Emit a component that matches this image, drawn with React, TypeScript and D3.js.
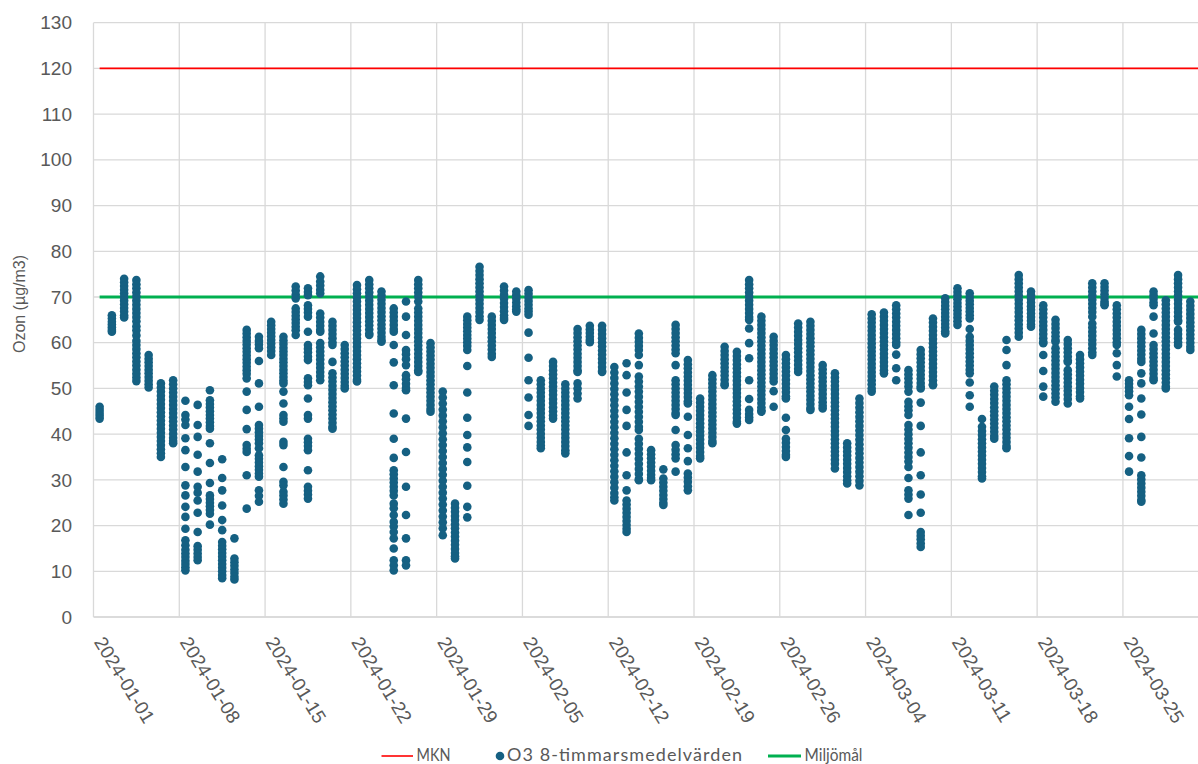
import React from 'react';
import * as d3 from 'd3';

// ---------- data ----------
const firstDay = '2024-01-01';
const axisStart = '2024-01-01';
const axisEnd = '2024-04-01';
const weekTicks = [
  '2024-01-01', '2024-01-08', '2024-01-15', '2024-01-22', '2024-01-29', '2024-02-05',
  '2024-02-12', '2024-02-19', '2024-02-26', '2024-03-04', '2024-03-11', '2024-03-18', '2024-03-25',
];
const yTicks = [0, 10, 20, 30, 40, 50, 60, 70, 80, 90, 100, 110, 120, 130];
const mknValue = 120;
const miljomalValue = 70;
const seriesNames = ['MKN', 'O3 8-timmarsmedelvärden', 'Miljömål'];

// O3 8-hour means per day (one list per day, starting 2024-01-01)
const o3ByDay: number[][] = [
  // Jan 1-7
  [46, 45.3, 44.6, 44, 43.4],
  [66, 65.3, 64.6, 64, 63.4, 62.8, 62.4],
  [74, 73.2, 72.4, 71.6, 70.8, 70, 69.2, 68.4, 67.6, 66.8, 66, 65.5],
  [73.7, 72.8, 71.9, 71, 70.1, 69.2, 68.3, 67.4, 66.5, 65.6, 64.7, 63.6, 62.7, 61.6, 60.4, 59.5, 58.6, 57.7, 56.8, 55.9, 55, 54.1, 53.2, 52.4, 51.6],
  [57.3, 56.5, 55.7, 54.9, 54.1, 53.3, 52.5, 51.7, 50.9, 50.2],
  [51.1, 50.2, 49.3, 48.4, 47.5, 46.6, 45.7, 44.8, 43.9, 43, 42.1, 41.2, 40.3, 39.4, 38.5, 37.6, 36.7, 35.8, 35],
  [51.8, 50.9, 50, 49.1, 48.2, 47.3, 46.4, 45.5, 44.6, 43.7, 42.8, 41.9, 41, 40.1, 39.2, 38.5, 38],
  // Jan 8-14
  [47.3, 44.2, 43.2, 42, 39.1, 36.5, 32.8, 28.8, 26.6, 24.1, 21.9, 19.3, 16.8, 15.7, 14.7, 13.9, 13.1, 12.3, 11.6, 10.9, 10.2],
  [46.4, 42, 39.4, 35.5, 31.8, 28.5, 27.2, 25.5, 22.8, 18.6, 15.5, 14.7, 13.9, 13.1, 12.4],
  [49.6, 47.4, 46.6, 45.8, 45, 44.2, 43.4, 42.6, 41.8, 41.2, 38, 33.7, 29.3, 26.6, 25.8, 25, 24.2, 23.4, 22.6, 20.2],
  [34.5, 30.4, 27.7, 24.4, 21.2, 19, 16.4, 15.6, 14.8, 14, 13.2, 12.4, 11.6, 10.8, 10, 9.2, 8.5],
  [17.2, 12.8, 12, 11.2, 10.4, 9.6, 8.8, 8.2],
  [62.8, 62, 61.2, 60.4, 59.6, 58.8, 58, 57.2, 56.4, 55.6, 54.8, 54, 53.2, 52.2, 49.3, 45.3, 41.1, 37.6, 36.8, 36.1, 31, 23.7],
  [61.3, 60.4, 59.6, 58.8, 56, 51.1, 46, 42, 41.2, 40.4, 39.6, 38.8, 38, 36.9, 35.4, 34.6, 33.8, 33, 32.2, 31.4, 30.7, 27.7, 26.5, 25.2],
  // Jan 15-21
  [64.6, 63.8, 63, 62.2, 61.4, 60.6, 59.8, 59, 58.2, 57.3],
  [61.3, 60.5, 59.7, 58.9, 58.1, 57.3, 56.5, 55.7, 54.9, 54.1, 53.3, 52.5, 51.7, 51.1, 49.3, 46.7, 44.2, 43.4, 42.7, 38.3, 37.6, 32.8, 29.6, 28.8, 27.4, 26.6, 25.7, 24.8],
  [72.3, 71.4, 70.5, 69.7, 67.5, 66.7, 65.9, 65.1, 64.3, 63.5, 62.7, 61.7],
  [71.9, 71.1, 70.4, 68.2, 67.4, 66.6, 65.7, 62.4, 59.5, 58.7, 57.9, 57, 56.2, 52.2, 51.4, 50.7, 47.8, 44.2, 43.4, 39, 38.2, 37.4, 36.5, 32.1, 28.5, 27.6, 26.8, 25.9],
  [74.5, 73.4, 72.5, 71.6, 70.8, 66.4, 65.5, 64.6, 63.7, 62.8, 62.4, 59.9, 59, 58.1, 57.2, 56.3, 55.4, 54.5, 53.6, 52.7, 51.8],
  [64.6, 63.7, 62.8, 61.9, 61, 60.1, 59.5, 55.8, 53.3, 52.4, 51.5, 50.6, 49.7, 48.8, 47.9, 47, 46.1, 45.2, 44.3, 43.4, 42.5, 41.6, 41.2],
  [59.5, 58.6, 57.7, 56.8, 55.9, 55, 54.1, 53.2, 52.3, 51.4, 50.6, 50],
  // Jan 22-28
  [72.6, 71.7, 70.8, 69.9, 69, 68.1, 67.2, 66.3, 65.4, 64.5, 63.6, 62.7, 61.8, 60.9, 60, 59.1, 58.2, 57.3, 56.4, 55.5, 54.6, 53.7, 52.8, 51.9, 51.5],
  [73.7, 72.8, 71.9, 71, 70.1, 69.2, 68.3, 67.4, 66.5, 65.6, 64.7, 63.8, 62.9, 62, 61.7],
  [71.2, 70.3, 69.4, 68.5, 67.6, 66.7, 65.8, 64.9, 64, 63.1, 62.2, 61.3, 60.6, 60.2],
  [67.5, 66.6, 65.7, 64.8, 63.9, 63, 62.4, 59.5, 55.7, 50.7, 44.5, 39, 34.8, 32.1, 31.2, 30.3, 29.4, 28.5, 27.6, 26.6, 24.8, 23.8, 22.3, 20.8, 19.8, 18.6, 17.2, 15, 12.4, 11.3, 10.2],
  [69, 65.7, 61.7, 58.4, 57.5, 56.4, 55.1, 52.9, 52, 51, 50.1, 49.6, 43.4, 36.1, 28.5, 22.3, 17.2, 12.4, 11.3],
  [73.7, 72.8, 71.9, 71, 70.1, 69, 67.5, 66.6, 65.7, 64.8, 63.9, 63, 62.1, 61.2, 60.3, 59.4, 58.5, 57.6, 56.7, 55.8, 54.9, 54, 53.6],
  [59.9, 59, 58.1, 57.2, 56.3, 55.4, 54.5, 53.6, 52.7, 51.8, 50.9, 50, 49.1, 48.2, 47.3, 46.4, 45.5, 44.9],
  // Jan 29 - Feb 4
  [49.3, 48, 46.7, 45.4, 44.1, 42.8, 41.5, 40.2, 38.9, 37.6, 36.3, 35, 33.7, 32.4, 31.1, 29.8, 28.5, 27.2, 25.9, 24.6, 23.3, 22, 20.7, 19.4, 17.9],
  [24.8, 23.9, 23, 22.1, 21.2, 20.3, 19.4, 18.5, 17.6, 16.7, 15.8, 14.9, 14, 13.3, 12.8],
  [65.7, 64.9, 64.1, 63.3, 62.5, 61.7, 60.9, 60.1, 59.3, 58.4, 54.9, 49.1, 43.6, 39.8, 37.1, 33.9, 28.7, 24.1, 21.8],
  [76.6, 75.7, 74.8, 73.9, 73, 72.1, 71.2, 70.3, 69.4, 68.5, 67.6, 66.7, 65.8, 65],
  [65.7, 64.8, 63.9, 63, 62.1, 61.2, 60.3, 59.4, 58.5, 57.6, 56.9],
  [72.3, 71.4, 70.5, 69.6, 68.7, 67.8, 66.9, 66, 65.4, 65],
  [71.2, 70.4, 69.6, 68.8, 68, 67.3, 66.8],
  // Feb 5-11
  [71.5, 70.7, 69.9, 69.1, 68.3, 67.5, 66.8, 66.1, 62.2, 56.7, 51.8, 48, 44.2, 41.8],
  [51.8, 50.9, 50, 49.1, 48.2, 47.3, 46.4, 45.5, 44.6, 43.7, 42.8, 41.9, 41, 40.1, 39.2, 38.3, 37.5, 36.9],
  [55.8, 54.9, 54, 53.1, 52.2, 51.3, 50.4, 49.5, 48.6, 47.7, 46.8, 45.9, 45, 44.1, 43.4],
  [50.9, 50, 49.1, 48.2, 47.3, 46.4, 45.5, 44.6, 43.7, 42.8, 41.9, 41, 40.1, 39.2, 38.3, 37.4, 36.5, 35.8],
  [63, 62.1, 61.2, 60.3, 59.4, 58.5, 57.6, 56.7, 55.8, 54.9, 54, 53.6, 51.1, 50, 48.9, 47.8],
  [63.7, 62.9, 62.1, 61.3, 60.6, 60.1],
  [63.7, 62.8, 61.9, 61, 60.1, 59.2, 58.3, 57.4, 56.5, 55.6, 54.7, 53.8, 53.6],
  // Feb 12-18
  [54.7, 53.5, 52.3, 51.1, 49.9, 48.7, 47.5, 46.3, 45.1, 43.9, 42.7, 41.5, 40.3, 39.1, 37.9, 36.7, 35.5, 34.3, 33.1, 31.9, 30.7, 29.5, 28.3, 27.1, 26.2, 25.5],
  [55.5, 52.9, 49.1, 45.3, 41.8, 36, 31, 27.7, 25.5, 24.6, 23.7, 22.8, 21.9, 21, 20.1, 19.3, 18.6],
  [62, 61.1, 60.2, 59.3, 58.4, 57.3, 55.1, 52.6, 51.5, 50.4, 49.3, 48.2, 47.1, 46, 44.9, 43.8, 42.7, 41.6, 40.9, 39, 37.9, 36.8, 35.7, 34.6, 33.5, 32.4, 31.3, 30.2, 29.9],
  [36.5, 35.6, 34.7, 33.8, 32.9, 32, 31.1, 30.4, 29.9],
  [32.3, 30.3, 29.4, 28.5, 27.6, 26.7, 25.8, 25, 24.5],
  [63.9, 63, 62.1, 61.2, 60.3, 59.4, 58.5, 57.7, 55.1, 51.8, 50.9, 50, 49.1, 48.2, 47.3, 46.4, 45.5, 44.6, 44.2, 40.9, 37.6, 36.6, 35.6, 34.7, 31.8],
  [56.2, 55.3, 54.4, 53.5, 52.6, 51.7, 50.8, 49.9, 49, 48.1, 47.2, 46.7, 43.8, 39.8, 36.9, 34.1, 31.4, 30.5, 29.6, 28.6, 27.7],
  // Feb 19-25
  [47.8, 46.9, 46, 45.1, 44.2, 43.3, 42.4, 41.5, 40.6, 39.7, 38.8, 37.9, 37, 36.1, 35.2, 34.7],
  [52.9, 52, 51.1, 50.2, 49.3, 48.4, 47.5, 46.6, 45.7, 44.8, 43.9, 43, 42.1, 41.2, 40.3, 39.4, 38.5, 38],
  [59.1, 58.2, 57.3, 56.4, 55.5, 54.6, 53.7, 52.8, 51.9, 51, 50.7],
  [58, 57.1, 56.2, 55.3, 54.4, 53.5, 52.6, 51.7, 50.8, 49.9, 49, 48.1, 47.2, 46.3, 45.4, 44.5, 43.6, 42.7, 42.3],
  [73.7, 72.8, 71.9, 71, 70.1, 69.2, 68.3, 67.4, 66.5, 65.6, 65, 63.1, 59.9, 56.6, 51.8, 47.7, 45.3, 44.4, 43.7, 43.1],
  [65.7, 64.8, 63.9, 63, 62.1, 61.2, 60.3, 59.4, 58.5, 57.6, 56.7, 55.8, 54.9, 54, 53.1, 52.2, 51.3, 50.4, 49.5, 48.6, 47.7, 46.8, 45.9, 45.2, 44.9],
  [61.3, 60.4, 59.5, 58.6, 57.7, 56.8, 55.9, 55, 54.1, 53.2, 52.3, 51.5, 49.4, 46],
  // Feb 26 - Mar 3
  [57.3, 56.4, 55.5, 54.6, 53.7, 52.8, 51.9, 51, 50.1, 49.2, 48.3, 47.8, 43.6, 40.9, 39, 38.1, 37.2, 36.3, 35.5, 35],
  [64.2, 63.3, 62.4, 61.5, 60.6, 59.7, 58.8, 57.9, 57, 56.1, 55.2, 54.3, 53.6],
  [64.6, 63.7, 62.8, 61.9, 61, 60.1, 59.2, 58.3, 57.4, 56.5, 55.6, 54.7, 53.8, 52.9, 52, 51.1, 50.2, 49.3, 48.4, 47.5, 46.6, 45.7, 45.3],
  [55.1, 54.2, 53.3, 52.4, 51.5, 50.6, 49.7, 48.8, 47.9, 47, 46.2, 45.6],
  [53.3, 52.4, 51.5, 50.6, 49.7, 48.8, 47.9, 47, 46.1, 45.2, 44.3, 43.4, 42.5, 41.6, 40.7, 39.8, 38.9, 38, 37.1, 36.2, 35.3, 34.4, 33.5, 32.5],
  [38, 37.1, 36.2, 35.3, 34.4, 33.5, 32.6, 31.7, 30.8, 29.9, 29.2],
  [47.8, 46.8, 45.8, 44.8, 43.8, 42.8, 41.8, 40.8, 39.8, 38.8, 37.8, 36.8, 35.8, 34.8, 33.8, 32.8, 31.8, 30.8, 29.8, 28.8],
  // Mar 4-10
  [66.2, 65.3, 64.4, 63.5, 62.6, 61.7, 60.8, 59.9, 59, 58.1, 57.2, 56.3, 55.4, 54.5, 53.6, 52.7, 51.8, 50.9, 50, 49.3],
  [66.6, 65.7, 64.8, 63.9, 63, 62.1, 61.2, 60.3, 59.4, 58.5, 57.6, 56.7, 55.8, 54.9, 54, 53.3],
  [68.2, 67.3, 66.4, 65.5, 64.6, 63.7, 62.8, 61.9, 61, 60.1, 59.5, 57.4, 54.4, 51.8],
  [54, 53.1, 52.2, 51.3, 50.4, 49.3, 47.1, 46.1, 45.2, 44.2, 42, 41, 40, 39, 38, 37, 36, 35, 34, 32.8, 30.4, 27.7, 26.8, 25.9, 22.3],
  [58.4, 57.5, 56.6, 55.7, 54.8, 53.9, 53, 52.1, 51.2, 50.4, 50, 46.9, 41.8, 36, 31, 26.8, 22.8, 18.6, 17.8, 17, 16.1, 15.3],
  [65.3, 64.4, 63.5, 62.6, 61.7, 60.8, 59.9, 59, 58.1, 57.2, 56.3, 55.4, 54.5, 53.6, 52.7, 51.8, 50.9, 50.7],
  [69.7, 68.9, 68.1, 67.3, 66.5, 65.7, 64.9, 64.1, 63.3, 62.5, 62],
  // Mar 11-17
  [71.9, 71.1, 70.3, 69.5, 68.7, 67.9, 67.1, 66.3, 65.5, 64.7, 63.9],
  [70.8, 70, 69.2, 68.4, 67.6, 66.8, 66, 65.3, 63, 61.3, 60.4, 59.5, 58.6, 57.7, 56.8, 55.9, 55, 54.1, 53.3, 51.3, 48.5, 46],
  [43.3, 41.6, 40.7, 39.8, 38.9, 38, 37.1, 36.2, 35.3, 34.4, 33.5, 32.6, 31.7, 30.8, 30.3],
  [50.4, 49.5, 48.6, 47.7, 46.8, 45.9, 45, 44.1, 43.2, 42.3, 41.4, 40.5, 39.6, 39],
  [60.6, 58.4, 55.1, 51.8, 50.9, 50, 49.1, 48.2, 47.3, 46.4, 45.5, 44.6, 43.7, 42.8, 41.9, 41, 40.1, 39.2, 38.3, 37.4, 36.9],
  [74.8, 73.9, 73, 72.1, 71.2, 70.3, 69.4, 68.5, 67.6, 66.7, 65.8, 64.9, 64, 63.1, 62.2, 61.3],
  [71.2, 70.4, 69.6, 68.8, 68, 67.2, 66.4, 65.6, 64.8, 64, 63.5],
  // Mar 18-24
  [68.2, 67.3, 66.4, 65.5, 64.6, 63.7, 62.8, 61.9, 61, 60.2, 59.9, 57.3, 53.8, 50.4, 48.2],
  [65, 64.1, 63.2, 62.3, 61.4, 60.6, 60.2, 58.8, 57.9, 57, 56.1, 55.2, 54.3, 53.4, 52.5, 51.6, 50.7, 49.8, 48.9, 48, 47.1],
  [60.6, 59.7, 58.8, 57.9, 57, 56.1, 55.8, 54, 53.1, 52.2, 51.3, 50.4, 49.5, 48.6, 47.7, 46.7],
  [57.3, 56.4, 55.5, 54.6, 53.7, 52.8, 51.9, 51, 50.1, 49.2, 48.3, 47.8],
  [73, 72.1, 71.2, 70.3, 69.4, 68.5, 67.6, 66.7, 65.7, 64.2, 63.3, 62.4, 61.5, 60.6, 59.7, 58.8, 57.9, 57.3],
  [73, 72.2, 71.4, 70.6, 69.8, 69, 68.5, 68.2],
  [68.2, 67.3, 66.4, 65.5, 64.6, 63.7, 62.8, 61.9, 61, 60.1, 59.5, 57.7, 55.1, 52.6],
  // Mar 25-31
  [51.8, 51, 50.2, 49.4, 48.5, 46, 43.3, 39.1, 35.2, 31.8],
  [62.8, 61.9, 61, 60.1, 59.2, 58.3, 57.4, 56.5, 55.8, 53.3, 51.1, 47.8, 44.3, 39.4, 34.9, 31, 30.1, 29.2, 28.3, 27.4, 26.5, 25.6, 25.2],
  [71.2, 70.4, 69.6, 68.8, 68.2, 65.7, 62, 59.5, 58.6, 57.7, 56.8, 55.9, 55, 54.1, 53.2, 52.3, 51.8],
  [69.3, 68.4, 67.5, 66.6, 65.7, 64.8, 63.9, 63, 62.1, 61.2, 60.3, 59.4, 58.5, 57.6, 56.7, 55.8, 54.9, 54, 53.1, 52.2, 51.3, 50.4, 50],
  [74.8, 73.9, 73, 72.1, 71.2, 70.3, 69.4, 68.5, 67.6, 66.7, 65.8, 64.9, 64.6, 62.8, 61.9, 61, 60.1, 59.5],
  [69, 68.1, 67.2, 66.3, 65.4, 64.5, 63.6, 62.7, 61.8, 60.9, 60, 59.1, 58.4],
  [66, 65, 64, 63, 62, 61, 60, 59, 58, 57, 56, 55, 54, 53, 52, 51, 50, 49, 48, 47, 46, 45],
];

// ---------- layout ----------
const W = 1198;
const H = 764;
const plotLeft = 93.5;
const dayPx = 12.255;
const plotTop = 22.7;
const plotBottom = 617;

const parse = d3.timeParse('%Y-%m-%d');
const TEXT = '#595959';
const GRID = '#d9d9d9';
const DOT = '#156082';
const RED = '#ff0000';
const GREEN = '#00b050';

export default function App() {
  const start = parse(axisStart) as Date;
  const end = parse(axisEnd) as Date;
  const nDays = d3.timeDay.count(start, end);
  const x = d3.scaleTime().domain([start, end]).range([plotLeft, plotLeft + nDays * dayPx]);
  const y = d3.scaleLinear().domain([0, 130]).range([plotBottom, plotTop]);
  const day0 = parse(firstDay) as Date;

  const points: { x: number; y: number }[] = [];
  o3ByDay.forEach((vals, i) => {
    const dt = d3.timeHour.offset(d3.timeDay.offset(day0, i), 12);
    vals.forEach((v) => points.push({ x: x(dt), y: y(v) }));
  });
  const firstX = x(d3.timeHour.offset(day0, 12));
  const lastX = x(d3.timeHour.offset(d3.timeDay.offset(day0, o3ByDay.length - 1), 12));
  const rightEdge = x(end);

  const line = d3.line<[number, number]>();
  const mknPath = line([[firstX, y(mknValue)], [lastX, y(mknValue)]]) as string;
  const milPath = line([[firstX, y(miljomalValue)], [lastX, y(miljomalValue)]]) as string;

  const legendY = 755;
  return (
    <div style={{ position: 'absolute', left: 0, top: 0, width: W, height: H, overflow: 'hidden', background: '#fff' }}>
      <svg width={W} height={H} style={{ display: 'block' }}>
        <rect x={0} y={0} width={W} height={H} fill="#fff" />
        {/* horizontal grid */}
        {yTicks.map((t) => (
          <line key={'h' + t} x1={plotLeft} x2={rightEdge} y1={y(t)} y2={y(t)}
            stroke={t === 0 ? '#cfcfcf' : GRID} strokeWidth={1.3} />
        ))}
        {/* vertical grid */}
        {weekTicks.map((d) => {
          const gx = x(parse(d) as Date);
          return <line key={'v' + d} x1={gx} x2={gx} y1={plotTop} y2={plotBottom} stroke={GRID} strokeWidth={1.3} />;
        })}
        {/* y tick labels */}
        {yTicks.map((t) => (
          <text key={'yl' + t} x={72} y={y(t)} dy="0.35em" textAnchor="end" fontSize={19}
            fontFamily="Liberation Sans, Arial, sans-serif" fill={TEXT}>{t}</text>
        ))}
        {/* x tick labels */}
        {weekTicks.map((d) => {
          const gx = x(parse(d) as Date);
          return (
            <text key={'xl' + d} transform={`translate(${gx},642) rotate(58.5)`} textAnchor="start"
              fontSize={19} fontFamily="Liberation Sans, Arial, sans-serif" fill={TEXT}>{d}</text>
          );
        })}
        {/* y title */}
        <text transform={`translate(25,304) rotate(-90)`} textAnchor="middle"
          fontSize={16} fontFamily="Liberation Sans, Arial, sans-serif" fill={TEXT}>Ozon (µg/m3)</text>
        {/* lines */}
        <path d={mknPath} stroke={RED} strokeWidth={1.6} fill="none" />
        <path d={milPath} stroke={GREEN} strokeWidth={3} fill="none" />
        {/* dots */}
        {points.map((p, i) => (
          <circle key={i} cx={p.x} cy={p.y} r={4.3} fill={DOT} />
        ))}
        {/* legend */}
        <g fontFamily="Lato, Open Sans, sans-serif" fontSize={18} fill={TEXT}>
          <line x1={381.5} x2={413} y1={legendY + 1} y2={legendY + 1} stroke={RED} strokeWidth={1.6} />
          <text x={416.5} y={legendY} dy="0.35em" textLength={34} lengthAdjust="spacingAndGlyphs">{seriesNames[0]}</text>
          <circle cx={500} cy={legendY + 1} r={4.3} fill={DOT} />
          <text x={507} y={legendY} dy="0.35em" textLength={235} lengthAdjust="spacing">{seriesNames[1]}</text>
          <line x1={768} x2={801} y1={legendY + 1} y2={legendY + 1} stroke={GREEN} strokeWidth={3} />
          <text x={804.5} y={legendY} dy="0.35em" textLength={58} lengthAdjust="spacingAndGlyphs">{seriesNames[2]}</text>
        </g>
      </svg>
    </div>
  );
}
